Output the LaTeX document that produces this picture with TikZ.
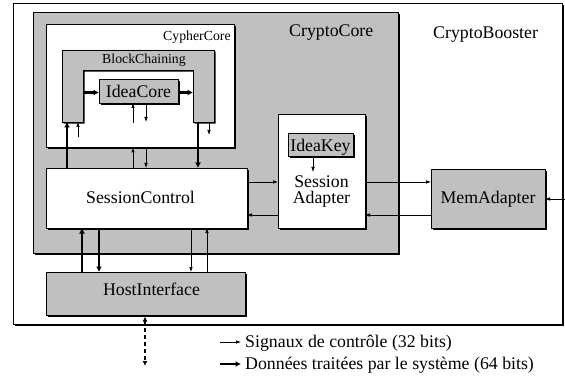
\documentclass[tikz,border=0pt]{standalone}
\usepackage{fontspec}
\setmainfont{Liberation Serif}
\usetikzlibrary{arrows.meta,shadows}
\definecolor{boxgray}{RGB}{192,192,192}
\tikzset{
  shad/.style={drop shadow={shadow xshift=1.6pt,shadow yshift=-1.6pt,fill=black,opacity=1}},
  blk/.style={draw=black,line width=0.8pt,shad,inner sep=0pt,outer sep=0pt,anchor=north west},
  wbox/.style={blk,fill=white},
  gbox/.style={blk,fill=boxgray},
  big/.style={font=\fontsize{17.8}{21}\selectfont,inner sep=0pt},
  small/.style={font=\fontsize{13.8}{16}\selectfont,inner sep=0pt},
  sig/.style={line width=0.8pt,-{Latex[length=5pt,width=3.6pt]}},
  dat/.style={line width=2.4pt,-{Latex[length=5.5pt,width=6pt]}},
}
\begin{document}
\begin{tikzpicture}[x=1pt,y=-1pt]
\useasboundingbox (0,0) rectangle (565,377);
% boxes
\node[wbox,minimum width=549pt,minimum height=321pt] (cb) at (13,3) {};
\node[gbox,minimum width=365pt,minimum height=241pt] (cc) at (33,12) {};
\node[wbox,minimum width=188pt,minimum height=123.5pt] (cy) at (46,24) {};
\draw[fill=boxgray,line width=0.8pt,shad] (62,50) -- (214,50) -- (214,122) -- (193,122) -- (193,70) -- (83,70) -- (83,122) -- (62,122) -- cycle;
\coordinate (legL) at (62,122);
\coordinate (legR) at (193,122);
\coordinate (bci) at (83,122);
\node[gbox,minimum width=79pt,minimum height=24pt] (ic) at (99,79) {};
\node[wbox,minimum width=201pt,minimum height=60pt] (sc) at (46,168) {};
\node[wbox,minimum width=87pt,minimum height=114pt] (sa) at (278,114) {};
\node[gbox,minimum width=65pt,minimum height=23pt] (ik) at (288,133) {};
\node[gbox,minimum width=114pt,minimum height=59pt] (ma) at (431,169) {};
\node[gbox,minimum width=199pt,minimum height=43pt] (hi) at (46,272) {};
% arrows inside CypherCore
\coordinate (yic) at (90,92.5);
\draw[dat] (bci |- yic) -- (ic.west |- yic);
\draw[dat] (ic.east |- yic) -- (legR |- yic);
\coordinate (x133) at (133,123);
\coordinate (x146) at (146,122);
\draw[sig] (x133) -- (x133 |- ic.south);
\draw[sig] (x146 |- ic.south) -- (x146);
\coordinate (x67) at (67,122);
\coordinate (x78) at (78,137);
\coordinate (x198) at (198,122);
\coordinate (x209) at (209,135);
\draw[dat] (x67 |- sc.north) -- (x67);
\draw[sig] (x78) -- (x78 |- legL);
\draw[dat] (x198) -- (x198 |- sc.north);
\draw[sig] (x209 |- legR) -- (x209);
\draw[sig] (x133 |- sc.north) -- (x133 |- cy.south);
\draw[sig] (x146 |- cy.south) -- (x146 |- sc.north);
% SessionControl / SessionAdapter / MemAdapter
\coordinate (y182) at (250,182);
\coordinate (y215) at (250,215);
\draw[sig] (sc.east |- y182) -- (sa.west |- y182);
\draw[sig] (sa.west |- y215) -- (sc.east |- y215);
\draw[sig] (sa.east |- y182) -- (ma.west |- y182);
\draw[sig] (ma.west |- y215) -- (sa.east |- y215);
\coordinate (ext) at (567,199);
\draw[sig] (ext) -- (ma.east |- ext);
\coordinate (x313) at (313,172);
\draw[sig] (x313 |- ik.south) -- (x313);
% HostInterface
\coordinate (x82) at (82,250);
\coordinate (x99) at (99,250);
\coordinate (x191) at (191,250);
\coordinate (x207) at (207,250);
\draw[dat] (hi.north -| x82) -- (sc.south -| x82);
\draw[dat] (sc.south -| x99) -- (hi.north -| x99);
\draw[sig] (sc.south -| x191) -- (hi.north -| x191);
\draw[sig] (hi.north -| x207) -- (sc.south -| x207);
\coordinate (dend) at (145,366);
\draw[line width=1.6pt,dash pattern=on 4pt off 3pt,shorten <=1.5pt,{Latex[length=5pt,width=5pt]}-{Latex[length=5pt,width=5pt]}] (hi.south -| dend) -- (dend);
% legend
\coordinate (l1a) at (220,342);
\coordinate (l1b) at (241,342);
\coordinate (l2a) at (220,364);
\coordinate (l2b) at (241,364);
\draw[sig] (l1a) -- (l1b);
\draw[dat] (l2a) -- (l2b);
\node[big,anchor=base west] (leg1) at (245,347) {Signaux de contrôle (32 bits)};
\node[big,anchor=base west] (leg2) at (245,369) {Données traitées par le système (64 bits)};
% labels
\node[big,anchor=base west] (cbl) at (433,39) {CryptoBooster};
\node[big,anchor=base west] (ccl) at (289,37) {CryptoCore};
\node[small,anchor=base west] (cyl) at (163,41) {CypherCore};
\node[small,anchor=base] (bcl) at (144,64) {BlockChaining};
\node[big,anchor=base] (icl) at (138.5,97.5) {IdeaCore};
\node[big,anchor=base] (ikl) at (320.5,152) {IdeaKey};
\node[big,anchor=base] (sal1) at (321.5,187) {Session};
\node[big,anchor=base] (sal2) at (321.5,204) {Adapter};
\node[big,anchor=base] (scl) at (140.5,204) {SessionControl};
\node[big,anchor=base] (hil) at (151.5,295) {HostInterface};
\node[big,anchor=base] (mal) at (488,203) {MemAdapter};
\end{tikzpicture}
\end{document}
